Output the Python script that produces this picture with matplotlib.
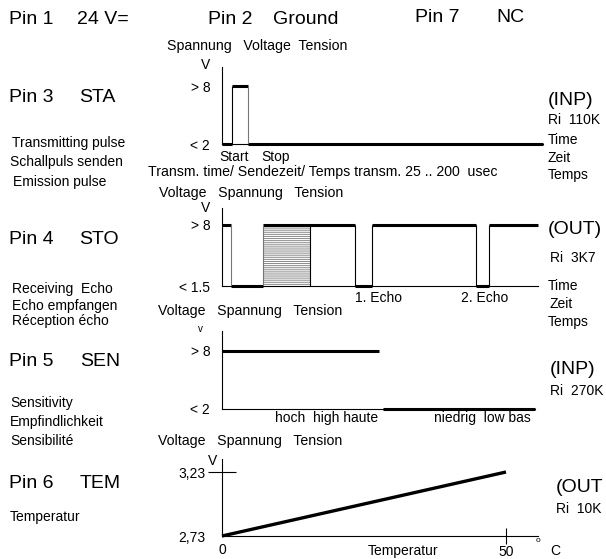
import matplotlib

matplotlib.use("Agg")
import matplotlib.pyplot as plt

W, H = 606, 559

# Pin 3 STA: transmitting pulse (time in arbitrary units, level 0 = low, 1 = high)
sta_edges = [0, 3, 8, 100]
sta_levels = [0, 1, 0]
sta_ticks = ["< 2", "> 8"]

# Pin 4 STO: echo output
sto_edges = [0, 3, 13, 42, 47.5, 80.5, 84.5, 100]
sto_levels = [1, 0, 1, 0, 1, 0, 1]
sto_window = [13, 28]
sto_ticks = ["< 1.5", "> 8"]

# Pin 5 SEN: sensitivity
sen_high = [0, 50]
sen_low = [51.5, 100]
sen_ticks = ["< 2", "> 8"]

# Pin 6 TEM: temperature output
tem_temp = [0, 50]
tem_volt = [2.73, 3.23]

plt.rcParams["font.family"] = ["Liberation Sans", "DejaVu Sans"]
plt.rcParams["hatch.linewidth"] = 0.7

fig = plt.figure(figsize=(W / 100, H / 100), dpi=100)

BIG = 14
SMALL = 10


def txt(x, y, s, size=SMALL, ha="left", va="center"):
    fig.text(x / W, 1 - y / H, s, fontsize=size, ha=ha, va=va)


def px_axes(left, top, right, bottom):
    ax = fig.add_axes([left / W, 1 - bottom / H, (right - left) / W, (bottom - top) / H])
    ax.patch.set_alpha(0)
    for side in ("top", "right"):
        ax.spines[side].set_visible(False)
    for side in ("left", "bottom"):
        ax.spines[side].set_linewidth(0.8)
    return ax


def level_axes(ax, top, ticks):
    ax.set_xlim(0, 100)
    ax.set_ylim(0, top)
    ax.set_xticks([])
    ax.set_yticks([0, 1], ticks)
    ax.tick_params(axis="y", length=0, pad=8.5, labelsize=SMALL)


def steps(ax, edges, levels, edge_colors):
    ax.hlines(levels, edges[:-1], edges[1:], colors="black", linewidth=2.2, clip_on=False)
    ax.vlines(edges[1:-1], 0, 1, colors=edge_colors, linewidth=0.8)


# header row
txt(9, 20, "Pin 1", BIG)
txt(77, 20, "24 V=", BIG)
txt(208, 20, "Pin 2", BIG)
txt(273, 20, "Ground", BIG)
txt(415, 17, "Pin 7", BIG)
txt(496, 17, "NC", BIG)

# ---- Pin 3 STA
ax1 = px_axes(222, 67, 543, 144)
level_axes(ax1, 77 / 58, sta_ticks)
steps(ax1, sta_edges, sta_levels, ["black", "#777777"])
txt(167, 46, "Spannung   Voltage  Tension", 10.2)
txt(210, 65, "V", ha="right")
txt(9, 98, "Pin 3", BIG)
txt(79, 98, "STA", BIG)
txt(12, 143, "Transmitting pulse")
txt(10, 162, "Schallpuls senden")
txt(13, 182, "Emission pulse")
txt(219, 157, "Start")
txt(261, 157, "Stop")
txt(148, 172, "Transm. time/ Sendezeit/ Temps transm. 25 .. 200  usec", 10.2)
txt(548, 100, "(INP)", BIG)
txt(548, 120, "Ri  110K")
txt(548, 140, "Time")
txt(548, 158, "Zeit")
txt(548, 175, "Temps")

# ---- Pin 4 STO
ax2 = px_axes(222, 208, 538, 286)
level_axes(ax2, 78 / 61, sto_ticks)
ax2.fill_between(sto_window, 0, 1, facecolor="white", edgecolor="#8a8a8a",
                 hatch="--------", linewidth=0)
steps(ax2, sto_edges, sto_levels, ["#777777", "#777777", "black", "black", "black", "black"])
ax2.vlines(sto_window[1], 0, 1, colors="black", linewidth=0.8)
txt(159, 193, "Voltage   Spannung   Tension", 10.2)
txt(210, 208, "V", ha="right")
txt(9, 240, "Pin 4", BIG)
txt(79, 240, "STO", BIG)
txt(12, 289, "Receiving  Echo")
txt(12, 306, "Echo empfangen")
txt(12, 321, "Réception écho")
txt(355, 298, "1. Echo")
txt(461, 298, "2. Echo")
txt(548, 230, "(OUT)", BIG)
txt(550, 258, "Ri  3K7")
txt(548, 286, "Time")
txt(550, 304, "Zeit")
txt(548, 322, "Temps")

# ---- Pin 5 SEN
ax3 = px_axes(222, 331, 535, 409)
level_axes(ax3, 78 / 58, sen_ticks)
ax3.hlines([1, 0], [sen_high[0], sen_low[0]], [sen_high[1], sen_low[1]],
           colors="black", linewidth=2.2, clip_on=False)
txt(158, 311, "Voltage   Spannung   Tension", 10.2)
txt(203, 329, "v", size=7, ha="right")
txt(9, 361, "Pin 5", BIG)
txt(80, 361, "SEN", BIG)
txt(10, 403, "Sensitivity")
txt(10, 422, "Empfindlichkeit")
txt(10, 441, "Sensibilité")
txt(378, 418, "hoch  high haute", ha="right")
txt(531, 418, "niedrig  low bas", ha="right")
txt(550, 369, "(INP)", BIG)
txt(550, 391, "Ri  270K")

# ---- Pin 6 TEM
ax4 = px_axes(222, 459, 538, 536)
ax4.set_xlim(0, 316 / 5.68)
ax4.set_ylim(tem_volt[0], tem_volt[0] + 77 / 128)
ax4.plot(tem_temp, tem_volt, color="black", linewidth=2.4, solid_capstyle="butt", clip_on=False)
ax4.set_yticks([tem_volt[1]], ["3,23"])
ax4.set_yticks([tem_volt[0]], ["2,73"], minor=True)
ax4.set_xticks([tem_temp[1]], ["50"])
ax4.set_xticks([tem_temp[0]], ["0"], minor=True)
ax4.tick_params(axis="y", which="major", direction="inout", length=20, width=0.8, pad=1.5, labelsize=SMALL)
ax4.tick_params(axis="y", which="minor", length=0, pad=12, labelsize=SMALL)
ax4.tick_params(axis="x", which="major", direction="inout", length=11, width=0.8, pad=1, labelsize=SMALL)
ax4.tick_params(axis="x", which="minor", length=0, pad=5, labelsize=SMALL)
txt(158, 441, "Voltage   Spannung   Tension", 10.2)
txt(217, 461, "V", ha="right")
txt(9, 484, "Pin 6", BIG)
txt(80, 484, "TEM", BIG)
txt(10, 517, "Temperatur")
txt(368, 551, "Temperatur")
txt(536, 541, "o", size=6)
txt(550, 551, "C")
txt(556, 487, "(OUT", BIG)
txt(556, 509, "Ri  10K")

fig.savefig("out.png", dpi=100)
